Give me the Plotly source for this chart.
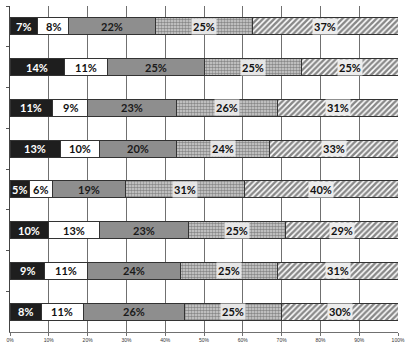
import plotly.graph_objects as go

rows = ["r1", "r2", "r3", "r4", "r5", "r6", "r7", "r8"]
s1 = [7, 14, 11, 13, 5, 10, 9, 8]
s2 = [8, 11, 9, 10, 6, 13, 11, 11]
s3 = [22, 25, 23, 20, 19, 23, 24, 26]
s4 = [25, 25, 26, 24, 31, 25, 25, 25]
s5 = [37, 25, 31, 33, 40, 29, 31, 30]
series = [s1, s2, s3, s4, s5]
x_ticks = list(range(0, 101, 10))
x_tick_labels = [f"{v}%" for v in x_ticks]

styles = [
    dict(color="#1e1e1e", pattern=None, text="white", bg=None),
    dict(color="#ffffff", pattern=None, text="#111111", bg=None),
    dict(color="#8e8e8e", pattern=None, text="#1a1a1a", bg=None),
    dict(color="#c8c8c8", pattern=dict(shape=".", fgcolor="#3a3a3a", bgcolor="#d6d6d6", size=3, solidity=0.6), text="#111111", bg="#e6e6e6"),
    dict(color="#ffffff", pattern=dict(shape="/", fgcolor="#111111", bgcolor="#ffffff", size=4, solidity=0.62), text="#111111", bg="#ececec"),
]

fig = go.Figure()
totals = [sum(s[i] for s in series) for i in range(len(rows))]
for s, st in zip(series, styles):
    marker = dict(color=st["color"], line=dict(color="#333333", width=1))
    if st["pattern"]:
        marker["pattern"] = st["pattern"]
    fig.add_trace(go.Bar(y=rows, x=s, orientation="h", marker=marker, hoverinfo="skip", showlegend=False))

annotations = []
for i, r in enumerate(rows):
    cum = 0
    for s, st in zip(series, styles):
        v = s[i]
        center = (cum + v / 2) / totals[i] * 100
        cum += v
        a = dict(x=center, y=i, xref="x", yref="y", text=f"{v}%", showarrow=False,
                 font=dict(family="Lato", size=11, color=st["text"], weight="bold"))
        if st["bg"]:
            a["bgcolor"] = st["bg"]
            a["borderpad"] = 1
        annotations.append(a)

fig.update_layout(
    barmode="stack",
    barnorm="percent",
    bargap=0.58,
    width=411, height=351,
    margin=dict(l=8, r=13, t=6, b=19),
    paper_bgcolor="white", plot_bgcolor="white",
    annotations=annotations,
    xaxis=dict(range=[0, 100], tickvals=x_ticks, ticktext=x_tick_labels,
               showgrid=True, gridcolor="#707070", gridwidth=1,
               ticks="outside", ticklen=3, tickcolor="#707070",
               showline=True, linecolor="#707070", zeroline=False,
               tickfont=dict(family="Liberation Sans", size=5, color="#333333")),
    yaxis=dict(categoryorder="array", categoryarray=rows, range=[7.5, -0.5],
               showticklabels=False, showgrid=False, ticks="outside", ticklen=3,
               tickson="boundaries", tickcolor="#555555",
               showline=True, linecolor="#444444"),
)
fig.write_html("out.html", config={"displayModeBar": False},
               post_script="document.body.style.margin='0px';")
